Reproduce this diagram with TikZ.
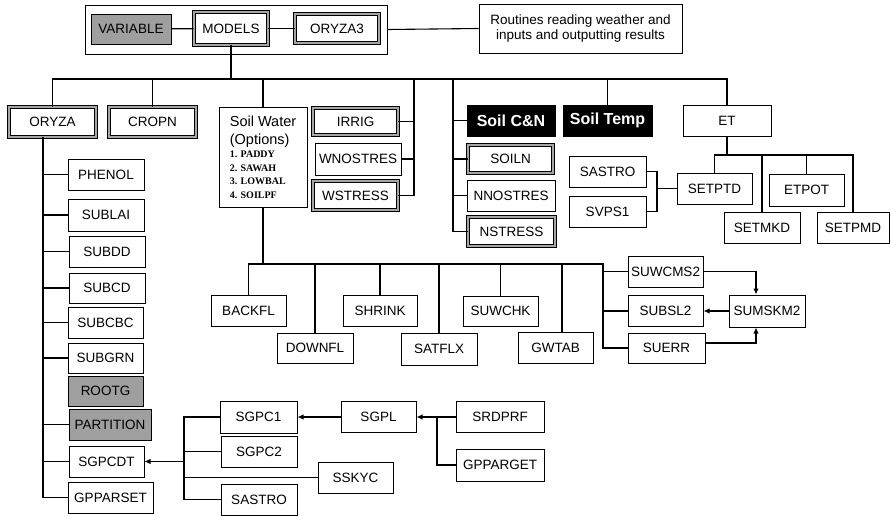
\documentclass[tikz,border=0pt]{standalone}
\usepackage{fontspec}
\setmainfont{Liberation Sans}
\newfontfamily\listfont{Liberation Serif}
\usetikzlibrary{arrows.meta}

\begin{document}
\begin{tikzpicture}[x=1pt, y=-1pt]
\tikzset{
  box/.style={draw, line width=1pt, inner sep=1pt, font=\fontsize{13.5}{15}\selectfont},
  dbox/.style={box, line width=0.8pt, double=gray!70, double distance=2.4pt},
  gbox/.style={box, fill=gray!75},
  kbox/.style={box, fill=black, text=white, font=\bfseries\fontsize{16}{18}\selectfont},
  sz/.style 2 args={minimum width=#1pt, minimum height=#2pt},
  link/.style={line width=1.1pt},
  arr/.style={link, -{Latex[length=6pt,width=5.5pt]}},
}
\useasboundingbox (0,0) rectangle (890,515);

% top row
\node[box, sz={302}{49}] (topframe) at (236,29.5) {};
\node[gbox, sz={80}{30}] (variable) at (131,29) {VARIABLE};
\node[dbox, sz={74}{33}] (models) at (231,28.5) {MODELS};
\node[dbox, sz={84}{29}] (oryzathree) at (337,28.5) {ORYZA3};
\node[box, sz={203}{49}, align=center] (routines) at (580.5,28.5)
  {Routines reading weather and\\inputs and outputting results};

% main modules
\node[dbox, sz={87}{30}] (oryza) at (52.5,122) {ORYZA};
\node[dbox, sz={87}{30}] (cropn) at (152.5,122) {CROPN};
\node[box, sz={88}{100}, align=left, font=\fontsize{10}{13.5}\selectfont] (soilwater) at (263,157)
  {{\fontsize{14.5}{15}\selectfont Soil Water}\\[4.5pt]
   {\fontsize{14.5}{15}\selectfont (Options)}\\
   {\listfont\bfseries 1. PADDY}\\
   {\listfont\bfseries 2. SAWAH}\\
   {\listfont\bfseries 3. LOWBAL}\\
   {\listfont\bfseries 4. SOILPF}};
\node[dbox, sz={85}{27}] (irrig) at (355.5,121.5) {IRRIG};
\node[box, sz={86}{32}] (wnostres) at (358,159) {WNOSTRES};
\node[dbox, sz={85}{29}] (wstress) at (355.5,195.5) {WSTRESS};
\node[kbox, sz={88}{31}] (soilcn) at (511,120.5) {Soil C\&N};
\node[dbox, sz={85}{28}] (soiln) at (510.5,159) {SOILN};
\node[box, sz={88}{31}] (nnostres) at (511,195.5) {NNOSTRES};
\node[dbox, sz={87}{29}] (nstress) at (511.5,231.5) {NSTRESS};
\node[kbox, sz={89}{31}] (soiltemp) at (607.5,120.5) {Soil Temp};
\node[box, sz={88}{31}] (et) at (727,120.5) {ET};

% ET group
\node[box, sz={77}{31}] (sastroa) at (607.5,171.5) {SASTRO};
\node[box, sz={77}{31}] (svps) at (607.5,211.5) {SVPS1};
\node[box, sz={75}{31}] (setptd) at (714.5,188.5) {SETPTD};
\node[box, sz={75}{32}] (etpot) at (806.5,190) {ETPOT};
\node[box, sz={76}{31}] (setmkd) at (762,227.5) {SETMKD};
\node[box, sz={72}{31}] (setpmd) at (853,227.5) {SETPMD};

% crop routines
\node[box, sz={76}{31}] (phenol) at (106,174.5) {PHENOL};
\node[box, sz={76}{32}] (sublai) at (106,215) {SUBLAI};
\node[box, sz={76}{31}] (subdd) at (107,251.5) {SUBDD};
\node[box, sz={76}{30}] (subcd) at (107,288) {SUBCD};
\node[box, sz={75}{31}] (subcbc) at (105.5,322.5) {SUBCBC};
\node[box, sz={75}{30}] (subgrn) at (105.5,358) {SUBGRN};
\node[gbox, sz={75}{30}] (rootg) at (105.5,391) {ROOTG};
\node[gbox, sz={82}{31}] (partition) at (110,424.5) {PARTITION};
\node[box, sz={75}{31}] (sgpcdt) at (106.5,461.5) {SGPCDT};
\node[box, sz={85}{31}] (gpparset) at (110.5,497.5) {GPPARSET};

% photosynthesis
\node[box, sz={77}{32}] (sgpc1) at (258.5,417) {SGPC1};
\node[box, sz={76}{31}] (sgpc2) at (259,451.5) {SGPC2};
\node[box, sz={75}{31}] (sskyc) at (355.5,477.5) {SSKYC};
\node[box, sz={76}{31}] (sastrob) at (259,499.5) {SASTRO};
\node[box, sz={75}{31}] (sgpl) at (378.5,417) {SGPL};
\node[box, sz={88}{31}] (srdprf) at (500,417) {SRDPRF};
\node[box, sz={88}{32}] (gpparget) at (500,465) {GPPARGET};

% soil water routines
\node[box, sz={75}{31}] (backfl) at (248.5,310.5) {BACKFL};
\node[box, sz={76}{30}] (downfl) at (315,348) {DOWNFL};
\node[box, sz={74}{31}] (shrink) at (380,310.5) {SHRINK};
\node[box, sz={76}{32}] (satflx) at (439,349) {SATFLX};
\node[box, sz={75}{30}] (suwchk) at (500.5,311) {SUWCHK};
\node[box, sz={75}{31}] (gwtab) at (555.5,347.5) {GWTAB};
\node[box, sz={75}{31}, inner sep=0pt] (suwcms) at (665.5,271.5) {SUWCMS2};
\node[box, sz={75}{31}] (subsl) at (665.5,311) {SUBSL2};
\node[box, sz={77}{30}] (suerr) at (666.5,348) {SUERR};
\node[box, sz={76}{32}, inner sep=0pt] (sumskm) at (767,311) {SUMSKM2};

% connectors
\coordinate (bus) at (231,79);
\coordinate (wbr) at (414,79);
\coordinate (cnbr) at (453,79);
\coordinate (etbus) at (727,155);
\coordinate (svbr) at (657,188.5);
\coordinate (swbus) at (263,264);
\coordinate (subr) at (603,264);
\coordinate (obr) at ([xshift=-9.5pt]oryza.south);
\coordinate (sgbr) at (184,461.5);
\coordinate (srbr) at (437,417);

\begin{scope}[link]
\draw (variable) -- (models);
\draw (models) -- (oryzathree);
\draw (topframe.east) -- (routines.west);
\draw (models.south) -- (models.south |- bus);
\draw (oryza.north) -- (oryza.north |- bus) -| (et.north);
\foreach \n in {cropn,soilwater,soiltemp}
  \draw (\n.north) -- (\n.north |- bus);
\draw (wbr) |- (wstress.east);
\foreach \n in {irrig,wnostres}
  \draw (\n.east) -- (\n.east -| wbr);
\draw (cnbr) |- (nstress.west);
\foreach \n in {soilcn,soiln,nnostres}
  \draw (\n.west) -- (\n.west -| cnbr);

\draw (et.south) -- (et.south |- etbus);
\draw (setptd.north) |- (etbus) -| (setpmd.north);
\foreach \n in {setmkd,etpot}
  \draw (\n.north) -- (\n.north |- etbus);
\draw (sastroa.east) -| (svbr) |- (svps.east);
\draw (svbr) -- (setptd.west);

\draw (obr) |- (gpparset.west);
\foreach \n in {phenol,sublai,subdd,subcd,subcbc,subgrn,partition,sgpcdt}
  \draw (\n.west) -- (\n.west -| obr);

\draw (sgpc1.west) -| (sgbr) |- (sastrob.west);
\foreach \n in {sgpc2,sskyc}
  \draw (\n.west) -- (\n.west -| sgbr);
\draw (srbr) |- (gpparget.west);

\draw (soilwater.south) -- (soilwater.south |- swbus);
\draw (backfl.north) |- (subr) |- (suerr.west);
\foreach \n in {downfl,shrink,satflx,suwchk}
  \draw (\n.north) -- (\n.north |- swbus);
\draw ([xshift=6.5pt]gwtab.north) -- ([xshift=6.5pt]gwtab.north |- swbus);
\foreach \n in {suwcms,subsl}
  \draw (\n.west) -- (\n.west -| subr);
\end{scope}

\draw[arr] (sgbr) -- (sgpcdt.east);
\draw[arr] (sgpl.west) -- (sgpc1.east);
\draw[arr] (srdprf.west) -- (sgpl.east);
\draw[arr] (suwcms.east) -| ([xshift=-11pt]sumskm.north);
\draw[arr] (sumskm.west) -- (subsl.east);
\draw[arr] ([yshift=5pt]suerr.east) -| ([xshift=-11pt]sumskm.south);
\end{tikzpicture}
\end{document}
